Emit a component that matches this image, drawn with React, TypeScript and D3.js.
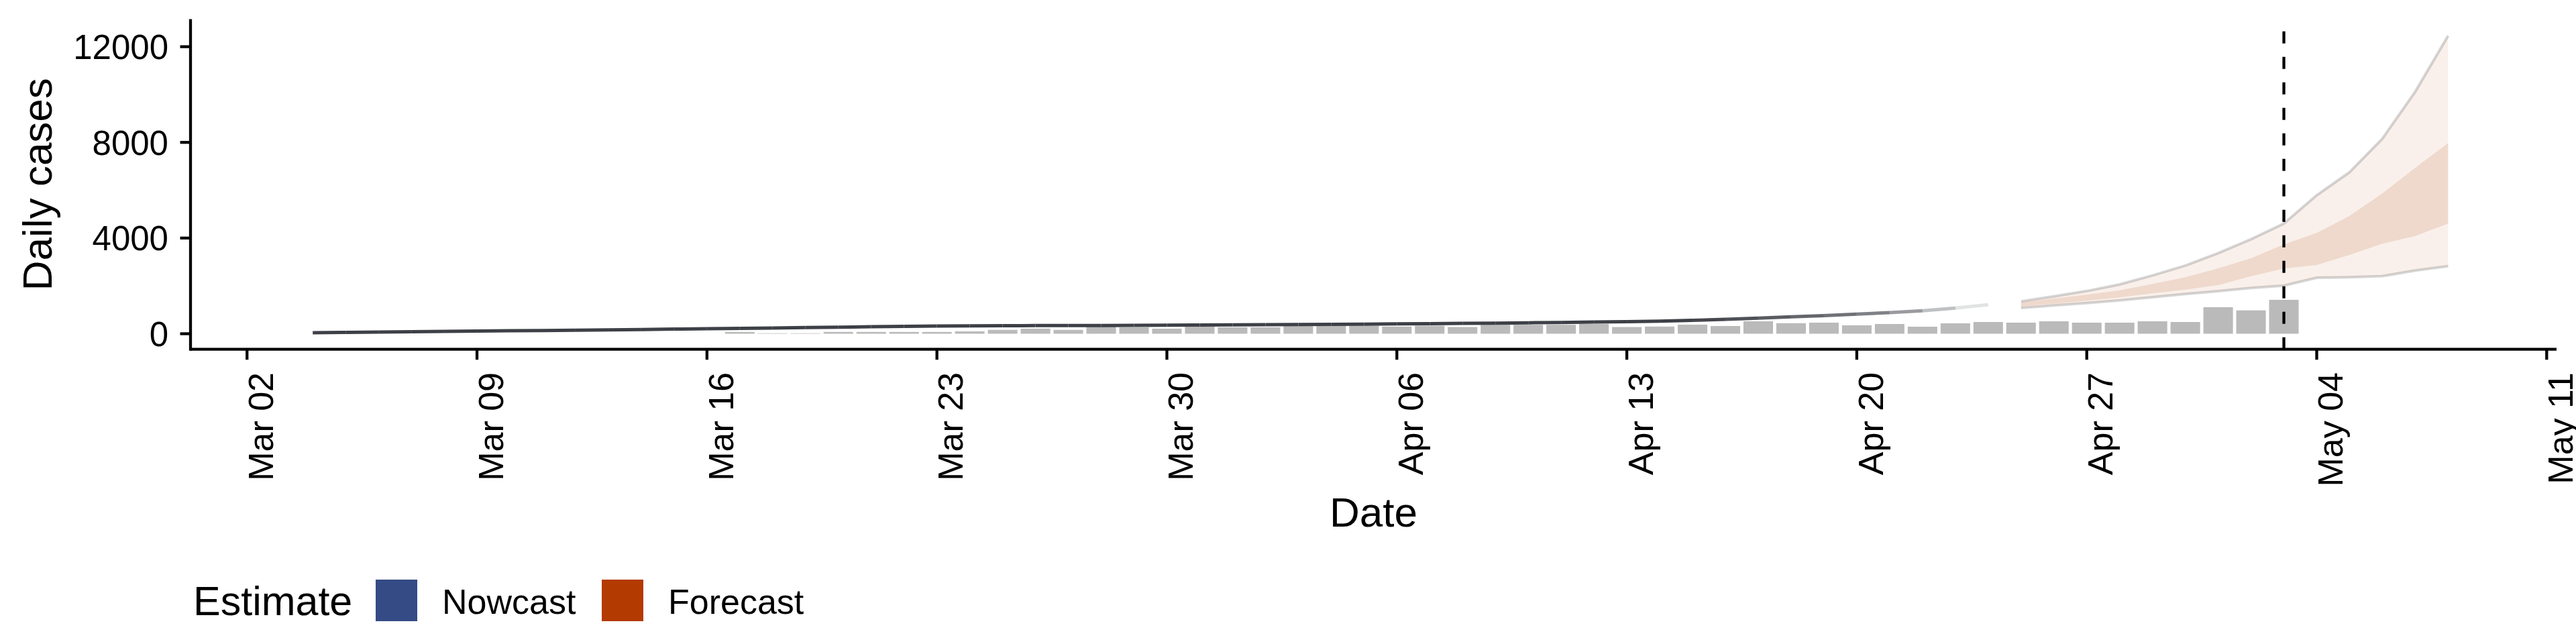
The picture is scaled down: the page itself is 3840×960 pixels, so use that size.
import * as d3 from 'd3'

// dates are days in 2020
const firstTick = '2020-03-02'
const lastTick = '2020-05-11'
const forecastDate = '2020-05-03'

// reported daily cases (bars), one per day from Mar 17
const caseStart = '2020-03-17'
const reportedCases = [
  75, 20, 20, 75, 75, 75, 75, 100, 160, 215, 160, 300, 268, 212, 310,
  268, 268, 330, 330, 335, 300, 337, 280, 374, 374, 374, 411, 280, 300, 379,
  323, 519, 440, 463, 351, 407, 295, 435, 491, 463, 519, 463, 463, 519, 491,
  1108, 977, 1417,
]

// nowcast median, one per day from Mar 04
const nowcastStart = '2020-03-04'
const nowcastMedian = [
  42, 55, 68, 82, 96, 110, 123, 136, 148, 160, 177, 193, 209, 224, 238,
  256, 274, 292, 310, 324, 332, 337, 340, 343, 346, 352, 358, 364, 371, 378,
  385, 392, 400, 410, 420, 432, 444, 458, 472, 488, 505, 525, 560, 605, 655,
  705, 760, 818, 885, 958, 1070, 1211,
]

// forecast intervals, one per day from Apr 25
const forecastStart = '2020-04-25'
const forecastUpper90 = [1352, 1565, 1785, 2062, 2436, 2847, 3371, 3950, 4605, 5790, 6755, 8158, 10121, 12460]
const forecastUpper50 = [1313, 1473, 1632, 1819, 2080, 2361, 2735, 3156, 3740, 4210, 4932, 5867, 6942, 7971]
const forecastLower50 = [1145, 1257, 1380, 1520, 1688, 1846, 2034, 2408, 2730, 2875, 3296, 3764, 4090, 4605]
const forecastLower90 = [1080, 1183, 1285, 1398, 1528, 1660, 1781, 1913, 2010, 2340, 2361, 2408, 2642, 2828]

const yTicks = [0, 4000, 8000, 12000]
const legendLabels = ['Nowcast', 'Forecast']
const legendColors = ['#344b85', '#b33a00']

const DAY = 864e5
const parse = d3.utcParse('%Y-%m-%d')
const dayAfter = (s: string, n: number) => new Date(+parse(s)! + n * DAY)

// opacity of the last nowcast segments (estimates on partial data fade out)
const fade = [0.15, 0.33, 0.52, 0.66, 0.74, 0.8, 0.86, 0.91, 0.96]

export default function App() {
  const width = 3840, height = 960
  const left = 284, right = 3811, top = 28.6, bottom = 520.7
  const font = 'Liberation Sans, Arial, Helvetica, sans-serif'

  const x = d3.scaleUtc()
    .domain([dayAfter(firstTick, -1.72), dayAfter(firstTick, 70.3)])
    .range([left, right])
  const y = d3.scaleLinear()
    .domain([-651, 13150])
    .range([bottom, top])

  const xTicks = d3.utcMonday.range(parse(firstTick)!, dayAfter(lastTick, 1))
  const fmt = d3.utcFormat('%b %d')
  const bw = 0.9 * (x(dayAfter(firstTick, 1)) - x(parse(firstTick)!))

  const bars = reportedCases.map((v, i) => ({ date: dayAfter(caseStart, i), v }))
  const now = nowcastMedian.map((v, i) => ({ date: dayAfter(nowcastStart, i), v }))
  const fc = forecastUpper90.map((_, i) => ({
    date: dayAfter(forecastStart, i),
    u90: forecastUpper90[i], u50: forecastUpper50[i],
    l50: forecastLower50[i], l90: forecastLower90[i],
  }))

  const line = d3.line<{ date: Date, v: number }>().x(d => x(d.date)).y(d => y(d.v))
  const outer = d3.area<any>().x(d => x(d.date)).y0(d => y(d.l90)).y1(d => y(d.u90))
  const inner = d3.area<any>().x(d => x(d.date)).y0(d => y(d.l50)).y1(d => y(d.u50))
  const bound = (k: string) => d3.line<any>().x(d => x(d.date)).y(d => y(d[k]))(fc)

  const segs = now.slice(0, -1).map((d, i) => {
    const k = now.length - 2 - i
    return { path: line([d, now[i + 1]]), op: k < fade.length ? fade[k] : 1 }
  })

  const vx = x(parse(forecastDate)!)

  return (
    <svg width={width} height={height} style={{ position: 'absolute', left: 0, top: 0, background: '#fff' }} fontFamily={font}>
      {/* bars */}
      {bars.map((d, i) => (
        <rect key={i} x={x(d.date) - bw / 2} y={y(d.v)} width={bw} height={y(0) - y(d.v)} fill="#bababa" />
      ))}

      {/* forecast ribbons */}
      <path d={outer(fc)!} fill="#b33a00" fillOpacity={0.08} />
      <path d={inner(fc)!} fill="#b33a00" fillOpacity={0.13} />
      <path d={bound('u90')!} fill="none" stroke="#000" strokeOpacity={0.16} strokeWidth={4} />
      <path d={bound('l90')!} fill="none" stroke="#000" strokeOpacity={0.16} strokeWidth={4} />

      {/* nowcast */}
      {segs.map((s, i) => (
        <path key={i} d={s.path!} fill="none" stroke="#3e4047" strokeOpacity={s.op} strokeWidth={5} />
      ))}

      {/* forecast date */}
      <line x1={vx} x2={vx} y1={bottom} y2={top} stroke="#000" strokeWidth={4.3} strokeDasharray="18 20" />

      {/* axes */}
      <line x1={left} x2={right} y1={bottom} y2={bottom} stroke="#000" strokeWidth={4.3} />
      <line x1={left} x2={left} y1={top} y2={bottom + 2.1} stroke="#000" strokeWidth={4.3} />
      {yTicks.map(t => (
        <g key={t}>
          <line x1={left - 15.5} x2={left} y1={y(t)} y2={y(t)} stroke="#000" strokeWidth={4.3} />
          <text x={251} y={y(t)} dy="0.36em" textAnchor="end" fontSize={51}>{t}</text>
        </g>
      ))}
      {xTicks.map((t, i) => (
        <g key={i}>
          <line x1={x(t)} x2={x(t)} y1={bottom} y2={bottom + 15.5} stroke="#000" strokeWidth={4.3} />
          <text transform={`translate(${x(t) + 38.7},555) rotate(-90)`} textAnchor="end" fontSize={52}>{fmt(t)}</text>
        </g>
      ))}

      {/* axis titles */}
      <text x={(left + right) / 2} y={785} textAnchor="middle" fontSize={62}>Date</text>
      <text transform={`translate(76.5,${(top + bottom) / 2}) rotate(-90)`} textAnchor="middle" fontSize={62}>Daily cases</text>

      {/* legend */}
      <text x={288} y={917} fontSize={61}>Estimate</text>
      {legendLabels.map((l, i) => (
        <g key={l}>
          <rect x={560 + i * 337} y={864} width={62} height={62} fill={legendColors[i]} />
          <text x={659 + i * 337} y={915} fontSize={52}>{l}</text>
        </g>
      ))}
    </svg>
  )
}
